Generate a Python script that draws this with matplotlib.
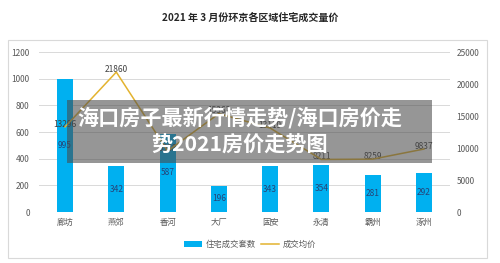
import matplotlib
matplotlib.use("Agg")
import matplotlib.pyplot as plt
import matplotlib.patches as mpatches
from matplotlib.lines import Line2D

plt.rcParams["font.family"] = ["Noto Sans CJK SC", "DejaVu Sans"]

# 数据 —— 2021 年 3 月环京各区域
AREAS = ["廊坊", "燕郊", "香河", "大厂", "固安", "永清", "霸州", "涿州"]
DEALS = [995, 342, 587, 196, 343, 354, 281, 292]            # 住宅成交套数
PRICES = [13296, 21860, 9538, 15362, 13119, 8211, 8259, 9837]  # 成交均价

LEFT_TICKS = [0, 200, 400, 600, 800, 1000, 1200]
RIGHT_TICKS = [0, 5000, 10000, 15000, 20000, 25000]

BAR_C = "#00B0F0"
LINE_C = "#E3B32F"
GRID_C = "#D9D9D9"
TXT_C = "#595959"

W, H = 500, 263
fig = plt.figure(figsize=(W / 100, H / 100), dpi=100)
fig.patch.set_facecolor("white")

# chart border
fig.patches.append(mpatches.Rectangle(
    (8 / W, 1 - 258 / H), 479 / W, 218 / H, transform=fig.transFigure,
    fill=False, edgecolor=GRID_C, linewidth=0.8, zorder=0))

ax = fig.add_axes([39.4 / W, 1 - 212 / H, 410.2 / W, 160 / H])
x = list(range(len(AREAS)))
ax.bar(x, DEALS, width=0.31, color=BAR_C, zorder=2)
for xi, v in zip(x, DEALS):
    ax.text(xi, v / 2, str(v), ha="center", va="center",
            fontsize=6, color="#264478", zorder=3)

ax.set_xlim(-0.5, len(AREAS) - 0.5)
ax.set_ylim(0, 1200)
ax.set_yticks(LEFT_TICKS)
ax.set_yticklabels([str(t) for t in LEFT_TICKS], fontsize=6, color=TXT_C)
ax.set_xticks(x)
ax.set_xticklabels(AREAS, fontsize=6, color=TXT_C)
ax.tick_params(axis="both", length=0)
ax.tick_params(axis="y", pad=7)
ax.tick_params(axis="x", pad=4)
ax.grid(True, axis="y", color=GRID_C, linewidth=0.7, zorder=0)
ax.set_axisbelow(True)
for s in ax.spines.values():
    s.set_visible(False)

ax2 = ax.twinx()
ax2.plot(x, PRICES, color=LINE_C, linewidth=1.1, zorder=4)
for xi, v in zip(x, PRICES):
    ax2.annotate(str(v), (xi, v), xytext=(0, 2), textcoords="offset points",
                 ha="center", va="center", fontsize=6, color="#404040")
ax2.set_ylim(0, 25000)
ax2.set_yticks(RIGHT_TICKS)
ax2.set_yticklabels([str(t) for t in RIGHT_TICKS], fontsize=6, color=TXT_C)
ax2.tick_params(axis="y", length=0, pad=5)
for s in ax2.spines.values():
    s.set_visible(False)

fig.text(0.5, 1 - 18 / H, "2021 年 3 月份环京各区域住宅成交量价",
         ha="center", va="center", fontsize=7.2, fontweight="bold", color="#262626")

handles = [mpatches.Patch(facecolor=BAR_C, label="住宅成交套数"),
           Line2D([0], [0], color=LINE_C, linewidth=1.1, label="成交均价")]
fig.legend(handles=handles, loc="center", bbox_to_anchor=(0.5, 1 - 244 / H),
           ncol=2, frameon=False, fontsize=6, handlelength=2.2,
           handleheight=0.7, columnspacing=0.6, handletextpad=0.4,
           labelcolor=TXT_C)

# 半透明标题横幅
fig.patches.append(mpatches.Rectangle(
    (67 / W, 1 - 163 / H), 365 / W, 63 / H, transform=fig.transFigure,
    facecolor="#4a4a4a", alpha=0.58, edgecolor="none", zorder=10))
fig.text(240 / W, 1 - 118 / H, "海口房子最新行情走势/海口房价走",
         ha="center", va="center", fontsize=15.2, fontweight="bold",
         color="white", zorder=11)
fig.text(240 / W, 1 - 145 / H, "势2021房价走势图",
         ha="center", va="center", fontsize=15.2, fontweight="bold",
         color="white", zorder=11)

fig.savefig("out.png", dpi=100)
